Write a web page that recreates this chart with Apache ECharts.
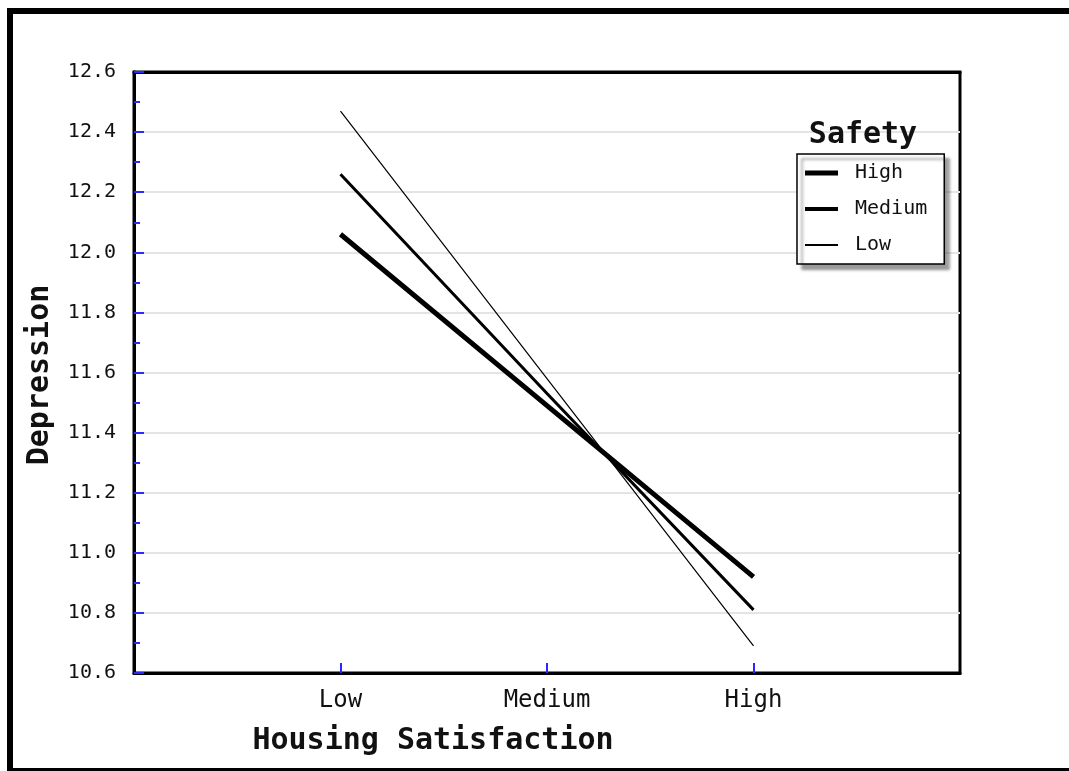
<!DOCTYPE html>
<html>
<head>
<meta charset="utf-8">
<script src="https://cdn.jsdelivr.net/npm/echarts@6/dist/echarts.min.js"></script>
<style>
  html, body { margin: 0; padding: 0; background: #fff; }
  #main { width: 1069px; height: 771px; }
</style>
</head>
<body>
<div id="main"></div>
<script>
var dom = document.getElementById('main');
var myChart = echarts.init(dom);

// categories on the x axis (placed at 1, 2, 3 of a 0..4 axis)
var categories = ['Low', 'Medium', 'High'];
var catPos = [1, 2, 3];

// depression by housing satisfaction, one line per safety level
var safetyHigh = [12.06, 11.49, 10.92];
var safetyMedium = [12.26, 11.53, 10.81];
var safetyLow = [12.47, 11.58, 10.69];

var font = '"DejaVu Sans Mono", "Liberation Mono", monospace';
var blue = '#2a2aff';

// legend icon: a horizontal bar of given thickness inside a 45x20 box
function barIcon(t) {
    var a = 10 - t / 2, b = 10 + t / 2;
    return 'path://M0,0L0.001,0L0,0.001Z M45,20L44.999,20L45,19.999Z ' +
        'M0,' + a + 'H33V' + b + 'H0Z';
}

function pts(vals) {
    return vals.map(function (v, i) { return [catPos[i], v]; });
}

function lineSeries(name, vals, width) {
    return {
        name: name,
        type: 'line',
        data: pts(vals),
        symbol: 'none',
        showSymbol: false,
        lineStyle: { color: '#000', width: width },
        itemStyle: { color: '#000' },
        emphasis: { disabled: true }
    };
}

var frameAxis = {
    axisLine: { show: true, lineStyle: { color: '#000', width: 3 } },
    axisTick: { show: false },
    axisLabel: { show: false },
    splitLine: { show: false }
};

var option = {
    animation: false,
    backgroundColor: '#fff',
    grid: {
        left: 134, right: 109, top: 72, bottom: 98,
        show: true, borderColor: '#000', borderWidth: 3
    },
    legend: {
        orient: 'vertical',
        left: 797, top: 154,
        padding: [9, 17, 9, 8],
        itemWidth: 45, itemHeight: 20, itemGap: 16,
        backgroundColor: '#fff',
        borderColor: '#000', borderWidth: 1.5,
        shadowColor: 'rgba(0,0,0,0.4)', shadowBlur: 3,
        shadowOffsetX: 5, shadowOffsetY: 5,
        itemStyle: { color: '#000' },
        textStyle: { fontFamily: font, fontSize: 20, color: '#111' },
        data: [
            { name: 'High', icon: barIcon(5) },
            { name: 'Medium', icon: barIcon(4) },
            { name: 'Low', icon: barIcon(2) }
        ]
    },
    xAxis: [{
        type: 'value',
        min: 0, max: 4, interval: 1,
        axisLine: { show: true, lineStyle: { color: '#000', width: 3 } },
        axisTick: {
            show: true, inside: true, length: 10, customValues: catPos,
            lineStyle: { color: blue, width: 2 }
        },
        axisLabel: {
            customValues: catPos,
            margin: 16,
            fontFamily: font, fontSize: 24, color: '#111',
            formatter: function (v) { return categories[catPos.indexOf(v)] || ''; }
        },
        splitLine: { show: false }
    }, Object.assign({ type: 'value', min: 0, max: 4, position: 'top' }, frameAxis)],
    yAxis: [{
        type: 'value',
        min: 10.6, max: 12.6, interval: 0.2,
        axisLine: { show: true, lineStyle: { color: '#000', width: 3 } },
        axisTick: { show: true, inside: true, length: 10, lineStyle: { color: blue, width: 2 } },
        minorTick: { show: true, splitNumber: 2, length: 6, lineStyle: { color: blue, width: 2 } },
        axisLabel: {
            margin: 18,
            fontFamily: font, fontSize: 20, color: '#111',
            formatter: function (v) { return v.toFixed(1); }
        },
        splitLine: { show: true, lineStyle: { color: '#e4e4e4', width: 2 } }
    }, Object.assign({ type: 'value', min: 10.6, max: 12.6, position: 'right' }, frameAxis)],
    graphic: [
        {
            type: 'rect', silent: true, z: 100,
            shape: { x: 10, y: 11, width: 1120, height: 760 },
            style: { fill: 'none', stroke: '#000', lineWidth: 6 }
        },
        {
            type: 'text', x: 863, y: 135, z: 100,
            style: {
                text: 'Safety', fontFamily: font, fontWeight: 'bold', fontSize: 30,
                fill: '#111', textAlign: 'center', textVerticalAlign: 'middle'
            }
        },
        {
            type: 'text', x: 433, y: 741, z: 100,
            style: {
                text: 'Housing Satisfaction', fontFamily: font, fontWeight: 'bold', fontSize: 30,
                fill: '#111', textAlign: 'center', textVerticalAlign: 'middle'
            }
        },
        {
            type: 'text', x: 40, y: 375, z: 100, rotation: Math.PI / 2,
            style: {
                text: 'Depression', fontFamily: font, fontWeight: 'bold', fontSize: 30,
                fill: '#111', textAlign: 'center', textVerticalAlign: 'middle'
            }
        }
    ],
    series: [
        lineSeries('High', safetyHigh, 5),
        lineSeries('Medium', safetyMedium, 3),
        lineSeries('Low', safetyLow, 1.2)
    ]
};

if (option && typeof option === 'object') {
    myChart.setOption(option, true);
}
</script>
</body>
</html>
